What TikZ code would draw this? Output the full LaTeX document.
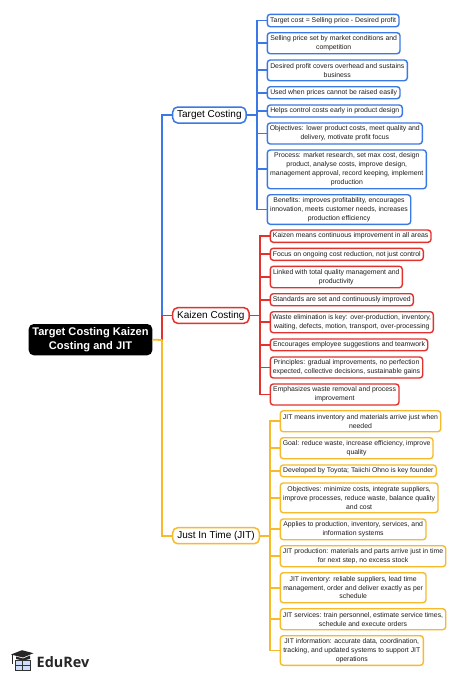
\documentclass[tikz,border=0pt]{standalone}
\usepackage{fontspec}
\setmainfont{Liberation Sans}
\newfontfamily\logofont{Open Sans}
\definecolor{cblue}{RGB}{58,120,230}
\definecolor{cred}{RGB}{226,50,45}
\definecolor{cyel}{RGB}{246,186,42}
\definecolor{ctext}{RGB}{30,30,30}
\tikzset{
  leafbox/.style={draw,line width=1.4pt,rounded corners=3pt,fill=white,align=center,inner sep=0pt,text=ctext,font=\fontsize{6.87}{8.8}\selectfont},
  branchbox/.style={draw,line width=1.5pt,rounded corners=5pt,fill=white,align=center,inner sep=0pt,text=black,font=\fontsize{10}{12}\selectfont},
  rootbox/.style={fill=black,rounded corners=5pt,align=center,inner sep=0pt,text=white,font=\fontsize{11.1}{14.4}\selectfont\bfseries},
  link/.style={line width=1.8pt,line join=miter}
}
% name, x1, y1, x2, y2, style, text
\newcommand{\boxat}[7]{\pgfmathsetmacro{\bw}{#4-#2}\pgfmathsetmacro{\bh}{#5-#3}%
  \node[#6,minimum width=\bw pt,minimum height=\bh pt] (#1) at ({(#2+#4)/2},{(#3+#5)/2}) {#7};}
\begin{document}
\begin{tikzpicture}[x=1pt,y=-1pt]
\useasboundingbox (0,0) rectangle (474,680);
\fill[white] (0,0) rectangle (474,680);
% junctions
\coordinate (hub) at (162.3,340);
\coordinate (tj) at (256.7,115);
\coordinate (kj) at (259.7,315.5);
\coordinate (jj) at (269.7,535.7);
% nodes
\boxat{root}{28.7}{324}{152.3}{355.3}{rootbox}{Target Costing Kaizen\\Costing and JIT}
\boxat{tgt}{172.7}{107}{246}{123}{branchbox,draw=cblue}{Target Costing}
\boxat{kai}{172.7}{307.7}{249}{323.3}{branchbox,draw=cred}{Kaizen Costing}
\boxat{jit}{172.7}{527.7}{259.3}{543.7}{branchbox,draw=cyel}{Just In Time (JIT)}
\tikzset{leafbox/.append style={draw=cblue}}
\boxat{t1}{267.3}{14.3}{399}{26.7}{leafbox}{Target cost = Selling price - Desired profit}
\boxat{t2}{267.3}{32.7}{400}{53.7}{leafbox}{Selling price set by market conditions and\\competition}
\boxat{t3}{267.3}{60}{407.3}{80.7}{leafbox}{Desired profit covers overhead and sustains\\business}
\boxat{t4}{267.3}{86.7}{400}{98.7}{leafbox}{Used when prices cannot be raised easily}
\boxat{t5}{267.3}{105}{402.3}{117}{leafbox}{Helps control costs early in product design}
\boxat{t6}{267.3}{123}{422.3}{144}{leafbox}{Objectives: lower product costs, meet quality and\\delivery, motivate profit focus}
\boxat{t7}{267.3}{150}{426.3}{188.7}{leafbox}{Process: market research, set max cost, design\\product, analyse costs, improve design,\\management approval, record keeping, implement\\production}
\boxat{t8}{267.3}{194.7}{410.7}{224.3}{leafbox}{Benefits: improves profitability, encourages\\innovation, meets customer needs, increases\\production efficiency}
\tikzset{leafbox/.append style={draw=cred}}
\boxat{k1}{270.3}{230}{431}{242.3}{leafbox}{Kaizen means continuous improvement in all areas}
\boxat{k2}{270.3}{248.3}{423.3}{260.3}{leafbox}{Focus on ongoing cost reduction, not just control}
\boxat{k3}{270.3}{266.3}{402.3}{287.7}{leafbox}{Linked with total quality management and\\productivity}
\boxat{k4}{270.3}{293.7}{413.3}{305.7}{leafbox}{Standards are set and continuously improved}
\boxat{k5}{270.3}{311.7}{433.3}{332.7}{leafbox}{Waste elimination is key: over-production, inventory,\\waiting, defects, motion, transport, over-processing}
\boxat{k6}{270.3}{339}{427.7}{350.7}{leafbox}{Encourages employee suggestions and teamwork}
\boxat{k7}{270.3}{357}{422.7}{378}{leafbox}{Principles: gradual improvements, no perfection\\expected, collective decisions, sustainable gains}
\boxat{k8}{270.3}{384}{399}{405}{leafbox}{Emphasizes waste removal and process\\improvement}
\tikzset{leafbox/.append style={draw=cyel}}
\boxat{j1}{280.3}{410.7}{440.7}{431.7}{leafbox}{JIT means inventory and materials arrive just when\\needed}
\boxat{j2}{280.3}{437.7}{433}{458.7}{leafbox}{Goal: reduce waste, increase efficiency, improve\\quality}
\boxat{j3}{280.3}{465}{436.3}{476.7}{leafbox}{Developed by Toyota; Taiichi Ohno is key founder}
\boxat{j4}{280.3}{483}{438}{512.7}{leafbox}{Objectives: minimize costs, integrate suppliers,\\improve processes, reduce waste, balance quality\\and cost}
\boxat{j5}{280.3}{519}{426}{539.7}{leafbox}{Applies to production, inventory, services, and\\information systems}
\boxat{j6}{280.3}{545.7}{445.7}{566.7}{leafbox}{JIT production: materials and parts arrive just in time\\for next step, no excess stock}
\boxat{j7}{280.3}{572.7}{426}{602.7}{leafbox}{JIT inventory: reliable suppliers, lead time\\management, order and deliver exactly as per\\schedule}
\boxat{j8}{280.3}{608.7}{445.7}{629.7}{leafbox}{JIT services: train personnel, estimate service times,\\schedule and execute orders}
\boxat{j9}{280.3}{635.7}{423.3}{665.3}{leafbox}{JIT information: accurate data, coordination,\\tracking, and updated systems to support JIT\\operations}
% connectors
\draw[link,cblue] (hub) |- (tgt.west);
\draw[link,cyel] (hub) |- (jit.west);
\draw[link,cred] (hub) |- (kai.west);
\draw[link,cyel] (root.east) -- (hub);
\draw[link,cblue] (tgt.east) -- (tj);
\foreach \n in {t1,t2,t3,t4,t5,t6,t7,t8} \draw[link,cblue] (tj) |- (\n.west);
\draw[link,cred] (kai.east) -- (kj);
\foreach \n in {k1,k2,k3,k4,k5,k6,k7,k8} \draw[link,cred] (kj) |- (\n.west);
\draw[link,cyel] (jit.east) -- (jj);
\foreach \n in {j1,j2,j3,j4,j5,j6,j7,j8,j9} \draw[link,cyel] (jj) |- (\n.west);
% logo
\node[inner sep=0pt,anchor=west,font=\logofont\fontsize{14.4}{15}\selectfont\bfseries,text=black!85] (logo) at (36.5,662.5) {EduRev};
\fill[black!85] (11,654.5) -- (22,650.2) -- (33.5,653.2) -- (23,657.5) -- cycle;
\fill[black!85] (16,656.5) -- (16,659) -- (23,660.5) -- (30,659) -- (30,655.5) -- (23,658.5) -- cycle;
\draw[black!85,line width=0.7pt] (12,655) -- (12,664);
\draw[black!80,line width=0.8pt,fill=cblue!25] (15,660) rectangle (30.5,670);
\draw[black!80,line width=0.6pt] (22.7,660) -- (22.7,670) (15,665) -- (30.5,665);
\end{tikzpicture}
\end{document}
